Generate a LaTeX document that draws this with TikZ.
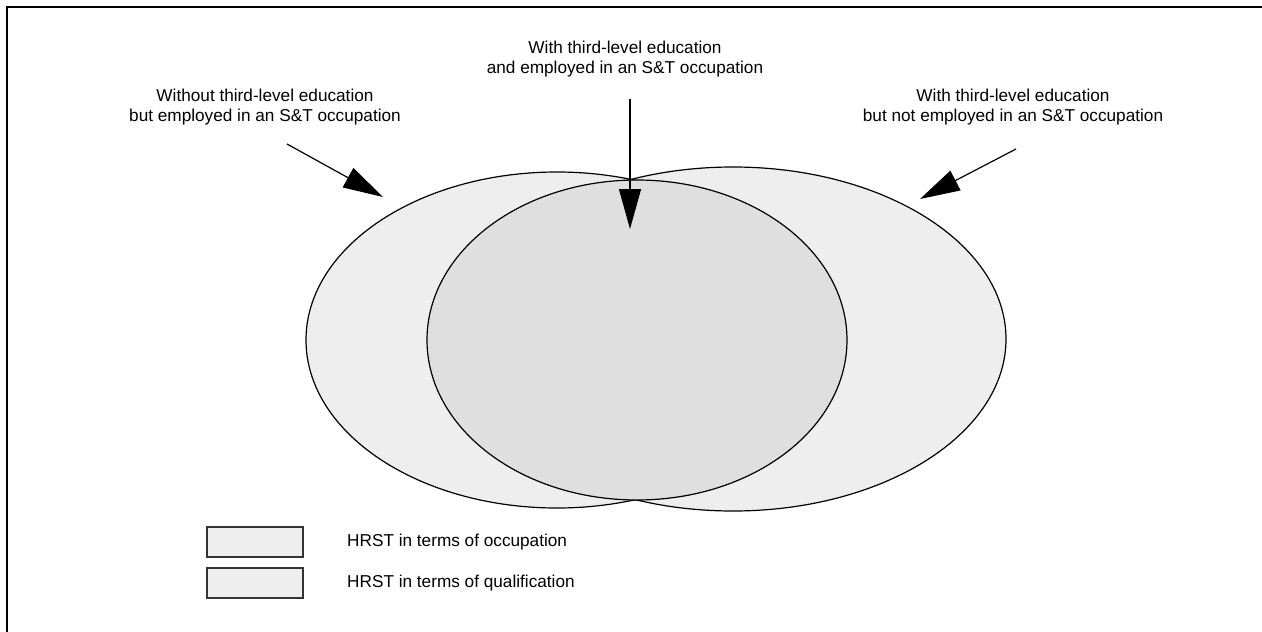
\documentclass[tikz,border=0pt]{standalone}
\usepackage{fontspec}
\setmainfont{Liberation Sans}
\usetikzlibrary{arrows.meta}
\definecolor{outerfill}{HTML}{EEEEEE}
\definecolor{innerfill}{HTML}{DFDFDF}
\definecolor{boxline}{HTML}{333333}
\tikzset{
  lbl/.style={align=center, font=\fontsize{17.2}{20}\selectfont, inner sep=0pt},
  leglbl/.style={anchor=west, font=\fontsize{17.2}{20}\selectfont, inner sep=0pt},
  pointer/.style={line width=1.2pt, -{Triangle[length=40pt,width=22pt]}, shorten >=0pt},
  ring/.style={line width=1.2pt, draw=black},
  legbox/.style={draw=boxline, line width=1.5pt, fill=outerfill, minimum width=96pt, minimum height=30pt, inner sep=0pt},
}
\begin{document}
\begin{tikzpicture}[x=1pt, y=-1pt]
\useasboundingbox (0,0) rectangle (1262,632);
% frame (top and left)
\draw[line width=2pt] (1262,7) -- (7,7) -- (7,632);
% outer ellipses
\fill[outerfill] (557,340) ellipse [x radius=251pt, y radius=168pt];
\fill[outerfill] (733,339) ellipse [x radius=273pt, y radius=172pt];
\draw[ring] (557,340) ellipse [x radius=251pt, y radius=168pt];
\draw[ring] (733,339) ellipse [x radius=273pt, y radius=172pt];
% inner ellipse
\draw[ring, fill=innerfill] (637,340) ellipse [x radius=210pt, y radius=160pt];
% labels
\node[lbl] (tl) at (265,107) {Without third-level education\\but employed in an S\&T occupation};
\node[lbl] (tm) at (625,59) {With third-level education\\and employed in an S\&T occupation};
\node[lbl] (tr) at (1013,107) {With third-level education\\but not employed in an S\&T occupation};
% arrows
\coordinate (ls) at (287,144);
\coordinate (lt) at (383,197);
\coordinate (ms) at (630,99);
\coordinate (mt) at (630,229);
\coordinate (rs) at (1016,149);
\coordinate (rt) at (920,199);
\draw[pointer] (ls) -- (lt);
\draw[pointer] (ms) -- (mt);
\draw[pointer] (rs) -- (rt);
% legend
\node[legbox] (b1) at (255,542) {};
\node[legbox] (b2) at (255,583) {};
\node[leglbl] (l1) at (347,542) {HRST in terms of occupation};
\node[leglbl] (l2) at (347,583) {HRST in terms of qualification};
\end{tikzpicture}
\end{document}
